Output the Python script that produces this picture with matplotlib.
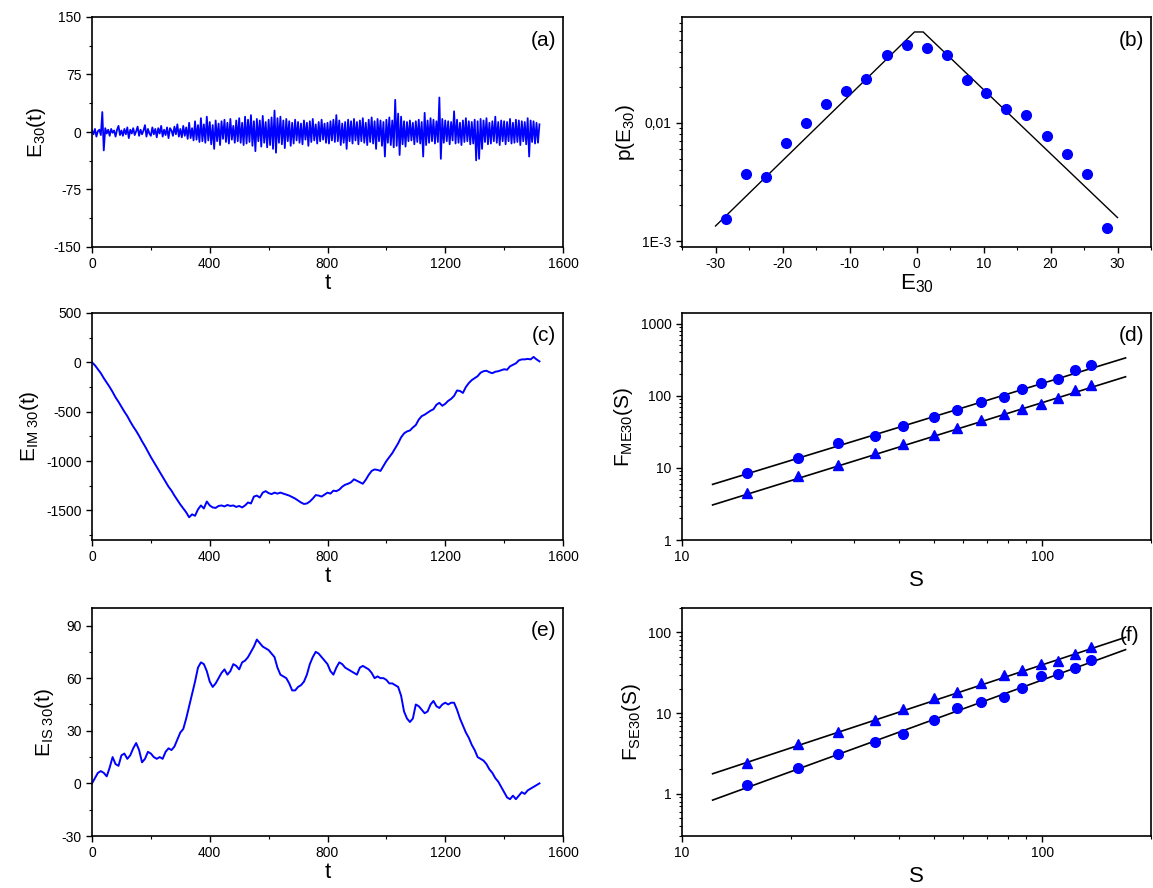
import numpy as np
import matplotlib
matplotlib.use('Agg')
import matplotlib.pyplot as plt
from matplotlib.ticker import MultipleLocator, FixedLocator, FixedFormatter, LogLocator, NullFormatter

plt.rcParams['font.family'] = ['Liberation Sans', 'DejaVu Sans']
plt.rcParams['mathtext.fontset'] = 'custom'
plt.rcParams['mathtext.rm'] = 'Liberation Sans'
plt.rcParams['mathtext.it'] = 'Liberation Sans'
plt.rcParams['axes.unicode_minus'] = False

# (a) increments, sampled every 5 time steps
step_a = 5
e30 = [2, -3, 4, -6, 1, 3, -4, 26, -24, 5, -2, 3, -5, 4, -1, 2, -6, 3, 8, -4,
       2, -5, 4, -3, 6, -8, 3, -2, 5, -4, 1, 7, -5, 3, -3, 2, 9, -6, 4, -2,
       -5, 6, -3, 4, -7, 5, -2, 8, -6, 3, -4, 6, -8, 5, 2, -5, 7, -3, 10, -6,
       4, -7, 8, -5, 6, -9, 12, -8, 5, -11, 14, -10, 9, -13, 18, -12, 10, -14, 20, -11,
       13, -16, 9, -22, 15, -12, 11, -17, 14, -9, 16, -13, 12, -15, 17, -10, 8, -14, 15, -12,
       18, -14, 12, -17, 20, -15, 16, -13, 22, -18, 14, -25, 17, -12, 15, -19, 21, -14, 13, -20,
       16, -17, 19, -22, 28, -27, 18, -14, 20, -16, 15, -21, 17, -12, 14, -18, 12, -15, 16, -11,
       13, -14, 11, -16, 15, -10, 12, -18, 14, -13, 17, -11, 10, -15, 13, -12, 16, -10, 11, -14,
       12, -15, 14, -11, 16, -13, 22, -12, 15, -17, 11, -14, 13, -22, 16, -12, 14, -15, 17, -11,
       13, -16, 15, -12, 18, -14, 12, -17, 16, -13, 19, -15, 14, -22, 17, -12, 15, -18, 13, -32,
       16, -14, 19, -17, 15, -20, 42, -18, 24, -30, 20, -16, 14, -19, 13, -12, 15, -11, 12, -16,
       14, -13, 16, -15, 13, -32, 25, -17, 15, -14, 18, -12, 16, -15, 14, -13, 45, -35, 17, -14,
       15, -12, 14, -16, 13, -11, 27, -15, 16, -14, 12, -17, 15, -13, 18, -12, 14, -16, 13, -15,
       16, -37, 14, -35, 17, -22, 15, -13, 18, -16, 12, -15, 14, -12, 20, -14, 13, -17, 15, -12,
       14, -16, 13, -12, 17, -15, 12, -14, 16, -13, 15, -17, 14, -12, 13, -16, 18, -32, 15, -13,
       14, -15, 12, -14, 10]

# (b) probability density
e_bins = [-28.5, -25.4, -22.5, -19.5, -16.5, -13.5, -10.5, -7.5, -4.4, -1.4,
          1.5, 4.5, 7.5, 10.4, 13.4, 16.4, 19.5, 22.4, 25.4, 28.4]
p_e = [0.00153, 0.00373, 0.00352, 0.00676, 0.00993, 0.0146, 0.0186, 0.0235, 0.0373, 0.046,
       0.0434, 0.0376, 0.0233, 0.018, 0.0131, 0.0116, 0.00776, 0.00548, 0.00371, 0.0013]
fit_e = [-30, -0.3, 1.0, 30]
fit_p = [0.00134, 0.059, 0.059, 0.00158]

# (c) and (e) integrated series, sampled every 10 time steps
step_ce = 10
e_im30 = [0, -30, -70, -110, -160, -205, -250, -300, -355, -400,
          -450, -500, -545, -600, -650, -695, -745, -800, -850, -905,
          -960, -1010, -1060, -1110, -1160, -1210, -1260, -1300, -1350, -1395,
          -1440, -1480, -1520, -1570, -1540, -1555, -1490, -1450, -1480, -1410,
          -1450, -1470, -1475, -1455, -1450, -1460, -1445, -1455, -1450, -1465,
          -1455, -1470, -1450, -1420, -1430, -1360, -1350, -1370, -1320, -1305,
          -1325, -1335, -1320, -1330, -1320, -1330, -1340, -1350, -1365, -1380,
          -1400, -1420, -1435, -1430, -1410, -1380, -1345, -1350, -1360, -1340,
          -1320, -1330, -1300, -1305, -1290, -1260, -1240, -1230, -1215, -1185,
          -1200, -1215, -1230, -1190, -1140, -1100, -1085, -1090, -1100, -1050,
          -1000, -960, -920, -870, -820, -760, -720, -700, -690, -660,
          -635, -580, -545, -530, -510, -490, -475, -430, -410, -440,
          -420, -390, -370, -340, -285, -290, -310, -250, -210, -180,
          -160, -140, -105, -90, -85, -100, -110, -95, -90, -80,
          -70, -75, -40, -25, -10, 20, 30, 30, 35, 30,
          55, 30, 10]

e_is30 = [0, 3, 6, 7, 6, 4, 9, 15, 11, 10,
          16, 17, 14, 16, 20, 23, 19, 12, 14, 18,
          17, 15, 14, 15, 14, 18, 20, 19, 21, 25,
          29, 31, 37, 44, 51, 58, 66, 69, 68, 64,
          58, 55, 57, 60, 63, 65, 62, 64, 68, 67,
          65, 69, 70, 72, 75, 78, 82, 80, 78, 77,
          76, 74, 72, 66, 62, 61, 60, 57, 53, 53,
          55, 56, 58, 62, 68, 72, 75, 74, 72, 70,
          68, 64, 62, 66, 69, 68, 66, 65, 64, 63,
          62, 66, 67, 66, 65, 63, 60, 61, 60, 60,
          59, 57, 57, 56, 55, 50, 41, 37, 35, 37,
          45, 44, 42, 40, 41, 45, 47, 44, 43, 45,
          46, 45, 46, 46, 42, 37, 33, 29, 26, 22,
          19, 15, 14, 13, 11, 8, 6, 3, 1, -2,
          -5, -8, -9, -7, -9, -7, -5, -6, -4, -3,
          -2, -1, 0]

# (d) and (f) fluctuation functions
s_vals = [15.1, 21.0, 27.1, 34.2, 40.9, 50.0, 58.0, 67.6, 78.0, 88.0, 98.9, 110.7, 123, 136]
f_me_orig = [8.5, 13.9, 22.3, 27.4, 38.1, 50.7, 63.1, 83, 94.6, 124.5, 151.7, 169, 225, 268]
f_me_tri = [4.54, 7.6, 10.9, 15.85, 21.1, 28.7, 35.3, 46.4, 56.5, 65.9, 77.6, 93.6, 121.8, 139]
fit_s = [12.16, 170]
fit_me_orig = [5.9, 334]
fit_me_tri = [3.06, 183]

f_se_tri = [2.42, 4.08, 5.79, 8.31, 11.26, 15.4, 18.1, 23.6, 29.9, 34.5, 41, 44.6, 53.9, 65.9]
f_se_orig = [1.27, 2.08, 3.12, 4.36, 5.47, 8.15, 11.6, 13.6, 15.85, 20.3, 28.6, 30.8, 35.9, 45]
fit_se_tri = [1.77, 86.7]
fit_se_orig = [0.835, 61]

blue = '#0000ff'
fig = plt.figure(figsize=(11.53, 8.88), dpi=100)

lx, lw = 92 / 1153, 471 / 1153
rx, rw = 682 / 1153, 469 / 1153
rows = [(1 - 247 / 888, 230 / 888), (1 - 540 / 888, 227 / 888), (1 - 836 / 888, 228 / 888)]

ax_a = fig.add_axes([lx, rows[0][0], lw, rows[0][1]])
ax_b = fig.add_axes([rx, rows[0][0], rw, rows[0][1]])
ax_c = fig.add_axes([lx, rows[1][0], lw, rows[1][1]])
ax_d = fig.add_axes([rx, rows[1][0], rw, rows[1][1]])
ax_e = fig.add_axes([lx, rows[2][0], lw, rows[2][1]])
ax_f = fig.add_axes([rx, rows[2][0], rw, rows[2][1]])

for ax in [ax_a, ax_b, ax_c, ax_d, ax_e, ax_f]:
    ax.tick_params(which='both', direction='out', top=False, right=False, labelsize=10)
    ax.tick_params(which='major', length=4, width=1)
    ax.tick_params(which='minor', length=2, width=0.8)
    for sp in ax.spines.values():
        sp.set_linewidth(1.2)

def time_axis(ax):
    ax.set_xlim(0, 1600)
    ax.xaxis.set_major_locator(MultipleLocator(400))
    ax.xaxis.set_minor_locator(MultipleLocator(200))
    ax.set_xlabel('t', fontsize=16, labelpad=1)

# (a)
t_a = np.arange(len(e30)) * step_a
ax_a.plot(t_a, e30, color=blue, lw=1.3)
time_axis(ax_a)
ax_a.set_ylim(-150, 150)
ax_a.yaxis.set_major_locator(MultipleLocator(75))
ax_a.yaxis.set_minor_locator(MultipleLocator(37.5))
ax_a.set_ylabel('E$_{30}$(t)', fontsize=15)
ax_a.text(0.985, 0.9, '(a)', transform=ax_a.transAxes, ha='right', va='center', fontsize=15)

# (b)
ax_b.plot(fit_e, fit_p, color='black', lw=1)
ax_b.plot(e_bins, p_e, 'o', color=blue, ms=7)
ax_b.set_yscale('log')
ax_b.set_xlim(-35, 35)
ax_b.set_ylim(8.9e-4, 0.079)
ax_b.xaxis.set_major_locator(MultipleLocator(10))
ax_b.xaxis.set_minor_locator(MultipleLocator(5))
ax_b.yaxis.set_major_locator(FixedLocator([1e-3, 1e-2]))
ax_b.yaxis.set_major_formatter(FixedFormatter(['1E-3', '0,01']))
ax_b.yaxis.set_minor_locator(LogLocator(base=10, subs=np.arange(2, 10)))
ax_b.yaxis.set_minor_formatter(NullFormatter())
ax_b.set_xlabel('E$_{30}$', fontsize=16, labelpad=1)
ax_b.set_ylabel('p(E$_{30}$)', fontsize=15)
ax_b.text(0.985, 0.9, '(b)', transform=ax_b.transAxes, ha='right', va='center', fontsize=15)

# (c)
t_ce = np.arange(len(e_im30)) * step_ce
ax_c.plot(t_ce, e_im30, color=blue, lw=1.4)
time_axis(ax_c)
ax_c.set_ylim(-1800, 500)
ax_c.yaxis.set_major_locator(MultipleLocator(500))
ax_c.yaxis.set_minor_locator(MultipleLocator(250))
ax_c.set_ylabel('E$_{IM\\ 30}$(t)', fontsize=15)
ax_c.text(0.985, 0.9, '(c)', transform=ax_c.transAxes, ha='right', va='center', fontsize=15)

# (d)
ax_d.plot(fit_s, fit_me_orig, color='black', lw=1.2)
ax_d.plot(fit_s, fit_me_tri, color='black', lw=1.2)
ax_d.plot(s_vals, f_me_orig, 'o', color=blue, ms=7)
ax_d.plot(s_vals, f_me_tri, '^', color=blue, ms=7)
ax_d.set_xscale('log')
ax_d.set_yscale('log')
ax_d.set_xlim(10, 200)
ax_d.set_ylim(1, 1400)
ax_d.set_xticks([10, 100])
ax_d.set_xticklabels(['10', '100'])
ax_d.set_yticks([1, 10, 100, 1000])
ax_d.set_yticklabels(['1', '10', '100', '1000'])
ax_d.xaxis.set_minor_formatter(NullFormatter())
ax_d.set_xlabel('S', fontsize=16, labelpad=4)
ax_d.set_ylabel('F$_{ME30}$(S)', fontsize=15)
ax_d.text(0.985, 0.9, '(d)', transform=ax_d.transAxes, ha='right', va='center', fontsize=15)

# (e)
ax_e.plot(t_ce, e_is30, color=blue, lw=1.4)
time_axis(ax_e)
ax_e.set_ylim(-30, 100)
ax_e.yaxis.set_major_locator(MultipleLocator(30))
ax_e.yaxis.set_minor_locator(MultipleLocator(15))
ax_e.set_ylabel('E$_{IS\\ 30}$(t)', fontsize=15)
ax_e.text(0.985, 0.9, '(e)', transform=ax_e.transAxes, ha='right', va='center', fontsize=15)

# (f)
ax_f.plot(fit_s, fit_se_tri, color='black', lw=1.2)
ax_f.plot(fit_s, fit_se_orig, color='black', lw=1.2)
ax_f.plot(s_vals, f_se_tri, '^', color=blue, ms=7)
ax_f.plot(s_vals, f_se_orig, 'o', color=blue, ms=7)
ax_f.set_xscale('log')
ax_f.set_yscale('log')
ax_f.set_xlim(10, 200)
ax_f.set_ylim(0.3, 200)
ax_f.set_xticks([10, 100])
ax_f.set_xticklabels(['10', '100'])
ax_f.set_yticks([1, 10, 100])
ax_f.set_yticklabels(['1', '10', '100'])
ax_f.xaxis.set_minor_formatter(NullFormatter())
ax_f.set_xlabel('S', fontsize=16, labelpad=4)
ax_f.set_ylabel('F$_{SE30}$(S)', fontsize=15)
ax_f.text(0.975, 0.88, '(f)', transform=ax_f.transAxes, ha='right', va='center', fontsize=15)

fig.savefig('out.png', dpi=100)
